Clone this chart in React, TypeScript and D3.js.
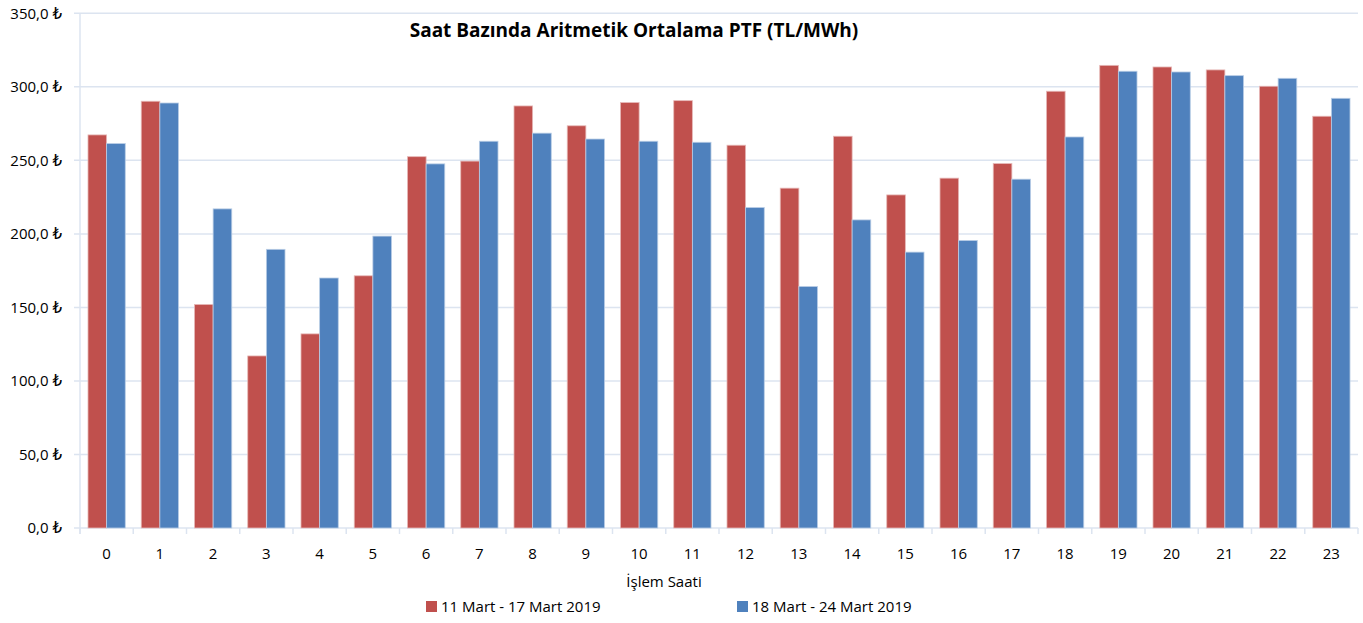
import * as d3 from 'd3';
import { useMemo } from 'react';

const hours = d3.range(0, 24).map(String);
const week1 = [
  267.3, 290.2, 152.0, 117.0, 132.0, 171.5, 252.5, 249.5, 287.0, 273.5, 289.3, 290.6,
  260.3, 231.1, 266.4, 226.5, 237.9, 247.8, 297.0, 314.6, 313.5, 311.5, 300.4, 280.0,
];
const week2 = [
  261.4, 289.0, 217.0, 189.5, 170.0, 198.5, 247.6, 263.0, 268.5, 264.5, 263.0, 262.3,
  217.9, 164.2, 209.5, 187.6, 195.5, 237.2, 265.9, 310.6, 310.1, 307.6, 305.8, 292.2,
];
const seriesNames = ['11 Mart - 17 Mart 2019', '18 Mart - 24 Mart 2019'];
const yTicks = [0, 50, 100, 150, 200, 250, 300, 350];

const WIDTH = 1363;
const HEIGHT = 623;
const margin = { top: 13.3, right: 5, bottom: 95, left: 80 };
const colors = ['#C0504D', '#4F81BD'];
const strokes = ['#E6B9B8', '#B9CDE5'];
const font = "'Open Sans', 'DejaVu Sans', sans-serif";

export default function App() {
  const innerW = WIDTH - margin.left - margin.right;
  const innerH = HEIGHT - margin.top - margin.bottom;

  const x = useMemo(
    () => d3.scaleBand().domain(hours).range([margin.left, margin.left + innerW]).paddingInner(0.3).paddingOuter(0.15),
    [innerW]
  );
  const xBand = useMemo(
    () => d3.scaleBand().domain(hours).range([margin.left, margin.left + innerW]),
    [innerW]
  );
  const y = useMemo(
    () => d3.scaleLinear().domain([0, 350]).range([margin.top + innerH, margin.top]),
    [innerH]
  );
  const fmt = (v: number) => d3.format('.1f')(v).replace('.', ',') + ' ₺';
  const barW = x.bandwidth() / 2;
  const series = [week1, week2];
  const y0 = y(0);

  return (
    <svg width={WIDTH} height={HEIGHT} style={{ position: 'absolute', left: 0, top: 0 }} fontFamily={font}>
      <rect width={WIDTH} height={HEIGHT} fill='#fff' />
      {yTicks.map((t) => (
        <g key={t}>
          <line x1={margin.left - 6} x2={margin.left + innerW} y1={y(t)} y2={y(t)} stroke='#DCE4F0' strokeWidth={1.5} />
          <text x={62} y={y(t)} dy='0.35em' textAnchor='end' fontSize={15} fill='#000'>
            {fmt(t)}
          </text>
        </g>
      ))}
      <line x1={margin.left} x2={margin.left} y1={margin.top} y2={y0 + 6} stroke='#DCE4F0' strokeWidth={1.5} />
      {d3.range(0, 25).map((i) => {
        const px = margin.left + i * xBand.step();
        return <line key={i} x1={px} x2={px} y1={y0} y2={y0 + 6} stroke='#DCE4F0' strokeWidth={1.5} />;
      })}
      {series.map((vals, si) =>
        vals.map((v, i) => (
          <rect
            key={`${si}-${i}`}
            x={(x(hours[i]) ?? 0) + si * barW}
            y={y(v)}
            width={barW}
            height={y0 - y(v)}
            fill={colors[si]}
            stroke={strokes[si]}
            strokeWidth={0.8}
          />
        ))
      )}
      {hours.map((h) => (
        <text
          key={h}
          x={(xBand(h) ?? 0) + xBand.bandwidth() / 2}
          y={559}
          textAnchor='middle'
          fontSize={15}
          fill='#000'
        >
          {h}
        </text>
      ))}
      <text x={634} y={37} textAnchor='middle' fontSize={19} fontWeight='bold' fill='#000'>
        Saat Bazında Aritmetik Ortalama PTF (TL/MWh)
      </text>
      <text x={664} y={587} textAnchor='middle' fontSize={15} fill='#000'>
        İşlem Saati
      </text>
      {seriesNames.map((name, i) => {
        const lx = i === 0 ? 426 : 737;
        return (
          <g key={name}>
            <rect x={lx} y={601} width={11} height={11} fill={colors[i]} />
            <text x={lx + 15} y={612} fontSize={15} fill='#000'>
              {name}
            </text>
          </g>
        );
      })}
    </svg>
  );
}
